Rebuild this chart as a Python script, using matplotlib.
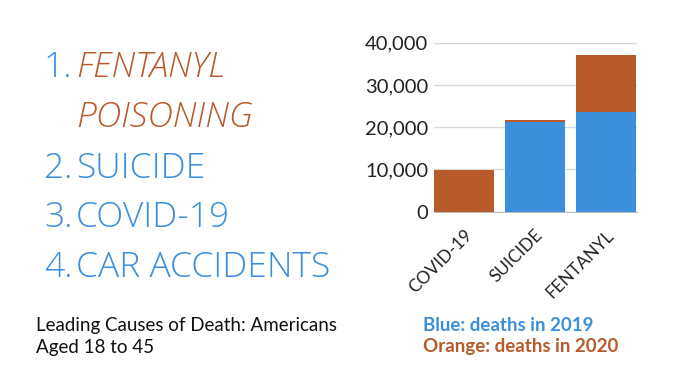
import matplotlib
matplotlib.use("Agg")
import matplotlib.pyplot as plt
from matplotlib.ticker import FuncFormatter

categories = ["COVID-19", "SUICIDE", "FENTANYL"]
deaths_2019 = [0, 21300, 23700]
deaths_2020 = [9900, 21800, 37200]
yticks = [0, 10000, 20000, 30000, 40000]

ranking_nums = ["1.", "", "2.", "3.", "4."]
ranking_text = ["FENTANYL", "POISONING", "SUICIDE", "COVID-19", "CAR ACCIDENTS"]

BLUE = "#3b8fdb"
ORANGE = "#b85a2a"

fig = plt.figure(figsize=(7, 3.86), dpi=100)
fig.patch.set_facecolor("white")

ax = fig.add_axes([434/700, 1-211.7/386, 202.7/700, (211.7-42.7)/386])
x = list(range(len(categories)))
ax.bar(x, deaths_2020, width=0.85, color=ORANGE, zorder=2)
ax.bar(x, deaths_2019, width=0.85, color=BLUE, zorder=3)
ax.set_xlim(-0.425, 2.44)
ax.set_ylim(0, 40000)
ax.set_yticks(yticks)
ax.yaxis.set_major_formatter(FuncFormatter(lambda v, p: f"{int(v):,}"))
ax.grid(axis="y", color="#d9d9d9", linewidth=1, zorder=0)
for s in ["top", "right", "left"]:
    ax.spines[s].set_visible(False)
ax.spines["bottom"].set_color("#bbbbbb")
ax.spines["bottom"].set_zorder(1)
ax.tick_params(axis="both", length=0)
ax.tick_params(axis="y", pad=4, labelsize=14.5, labelcolor="#222222")
ax.set_xticks(x)
ax.set_xticklabels(categories, rotation=45, ha="right", rotation_mode="anchor",
                   fontsize=12.5, color="#222222")
ax.tick_params(axis="x", pad=11)
for lab in ax.get_yticklabels() + ax.get_xticklabels():
    lab.set_family("Lato")

# Ranking list
baselines = [77, 127, 178, 227, 277]
for i, (n, t) in enumerate(zip(ranking_nums, ranking_text)):
    y = 1 - baselines[i]/386
    color = ORANGE if i < 2 else BLUE
    style = "italic" if i < 2 else "normal"
    if n:
        fig.text(44/700, y, n, color=BLUE, fontsize=25.5, family="Open Sans",
                 fontweight="light", va="baseline", ha="left")
    fig.text(76/700, y, t, color=color, fontsize=25.5, family="Open Sans",
             fontweight="light", style=style, va="baseline", ha="left")

fig.text(36/700, 1-331/386, "Leading Causes of Death: Americans", fontsize=13.5,
         family="Lato", color="#111111", va="baseline")
fig.text(36/700, 1-353/386, "Aged 18 to 45", fontsize=13.5,
         family="Lato", color="#111111", va="baseline")
fig.text(423/700, 1-331/386, "Blue: deaths in 2019", fontsize=13.5,
         family="Lato", fontweight="bold", color=BLUE, va="baseline")
fig.text(423/700, 1-352/386, "Orange: deaths in 2020", fontsize=13.5,
         family="Lato", fontweight="bold", color=ORANGE, va="baseline")

fig.savefig("out.png", dpi=100, facecolor="white")
